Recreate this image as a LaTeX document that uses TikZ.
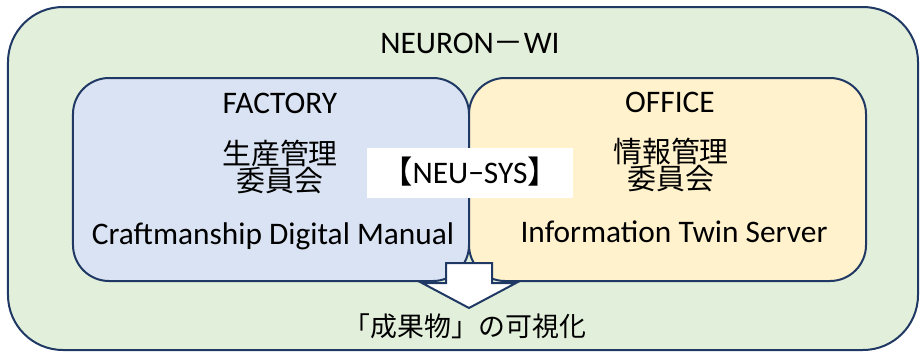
\documentclass[tikz,border=0pt]{standalone}
\usepackage{fontspec}
\setmainfont{Carlito}
\newfontfamily\cjk{Noto Sans CJK JP}
\usetikzlibrary{positioning}
\definecolor{navy}{HTML}{203864}
\definecolor{leafgreen}{HTML}{E2EFDA}
\definecolor{paleblue}{HTML}{DAE3F3}
\definecolor{paleyellow}{HTML}{FFF2CC}

\begin{document}
\begin{tikzpicture}[x=1bp, y=-1bp,
    panel/.style={rectangle, draw=navy, line width=2bp, inner sep=0pt},
    title/.style={font=\fontsize{31.5}{32}\selectfont, anchor=base, inner sep=0pt},
    jp/.style={font=\cjk\fontsize{29}{27}\selectfont, align=center, inner sep=0pt},
    flow/.style={draw=navy, line width=2bp, fill=white, line join=miter}
]
\useasboundingbox (0,0) rectangle (922,353);

% Outer frame
\node[panel, fill=leafgreen, rounded corners=55bp, minimum width=910bp, minimum height=343bp] (neuron) at (463,178.5) {};
\node[title] (neurontitle) at (470,53) {NEURON{\cjk\fontsize{30}{30}\selectfont－}WI};

% Factory side
\node[panel, fill=paleblue, rounded corners=36bp, minimum width=396bp, minimum height=203bp] (factory) at (271,179.5) {};
\node[title] (factorytitle) at (280,113) {FACTORY};
\node[jp] (factoryjp) at (280,167) {生産管理\\委員会};
\node[title] (manual) at (273,244) {Craftmanship Digital Manual};

% Office side
\node[panel, fill=paleyellow, rounded corners=36bp, minimum width=397bp, minimum height=203bp] (office) at (667.5,179.5) {};
\node[title] (officetitle) at (670,112) {OFFICE};
\node[jp] (officejp) at (671,165) {情報管理\\委員会};
\node[title] (server) at (674,242) {Information Twin Server};

% Shared system
\node[rectangle, fill=white, minimum width=206bp, minimum height=50bp, inner sep=0pt] (neusys) at (470,173) {};
\node[title] (neusystext) at (470,183) {{\cjk【}NEU−SYS{\cjk】}};

% Result arrow
\draw[flow] (446,263) -- (492,263) -- (492,283) -- (516,283) -- (469,308) -- (422,283) -- (446,283) -- cycle;
\node[jp, font=\cjk\fontsize{27}{27}\selectfont] (result) at (465,326) {「成果物」の可視化};

\end{tikzpicture}
\end{document}
